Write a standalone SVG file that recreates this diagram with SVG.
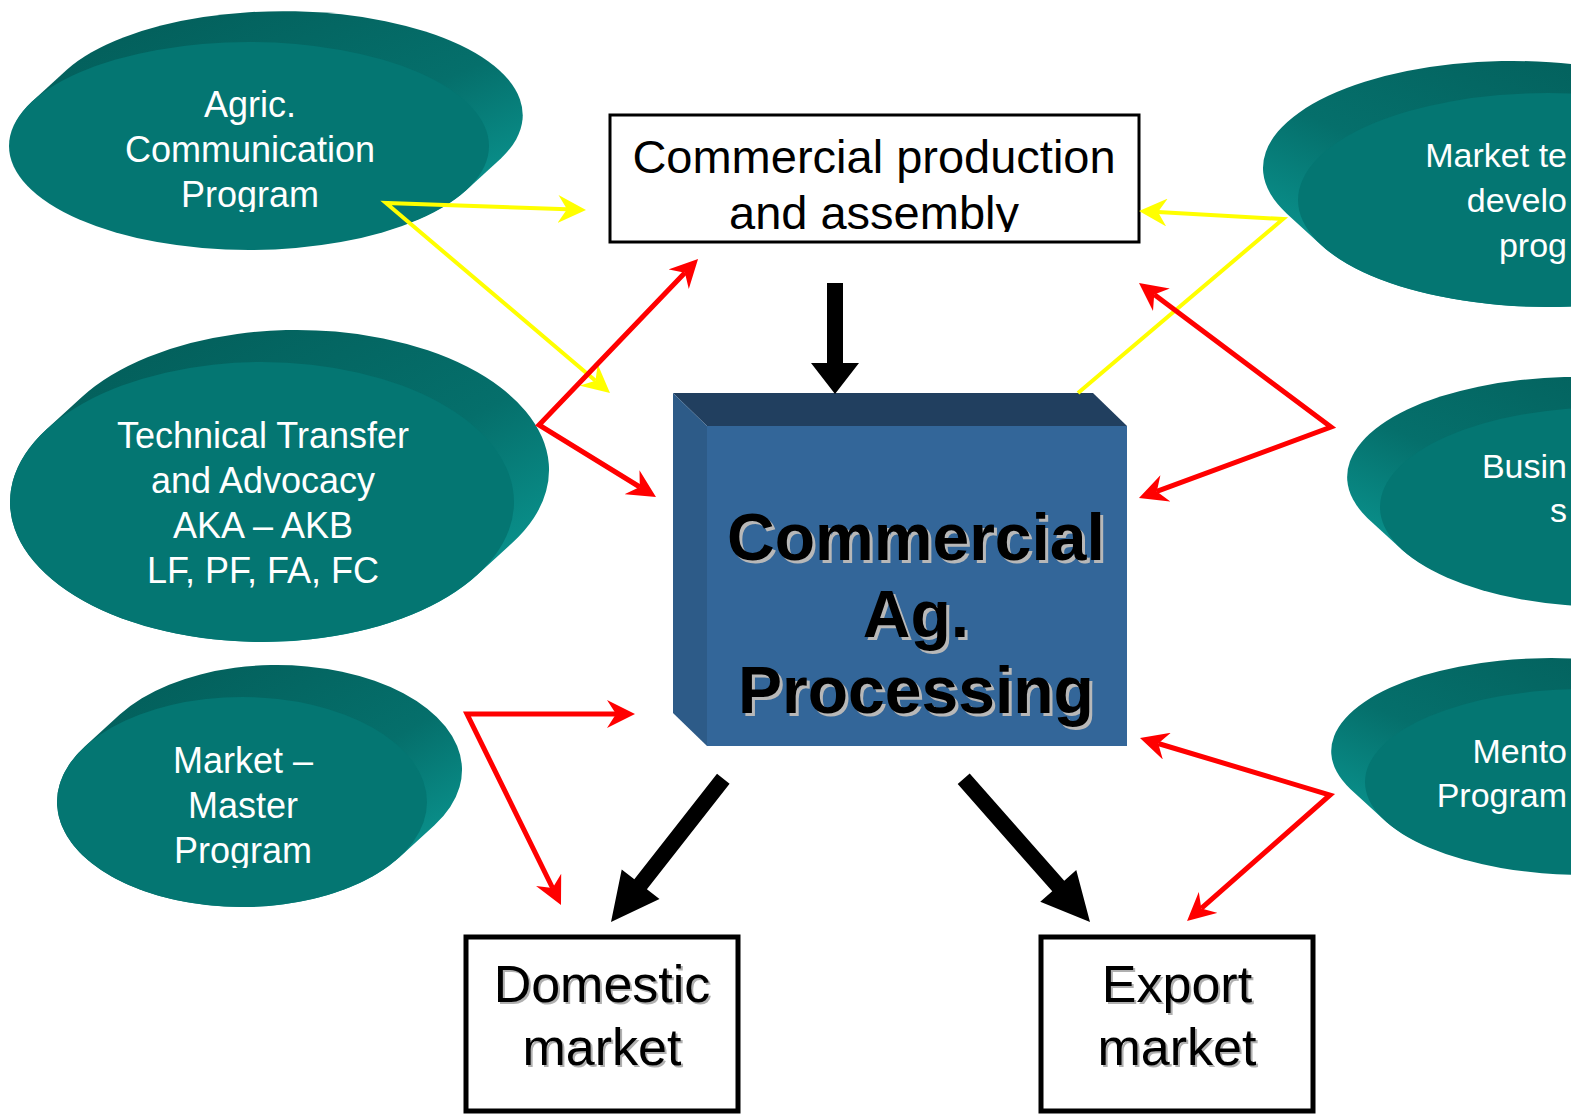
<svg xmlns="http://www.w3.org/2000/svg" width="1571" height="1117" viewBox="0 0 1571 1117">
<defs>
  <style>
    .front{fill:#047672}
    .sideL{fill:url(#gSideL)}
    .sideR{fill:url(#gSideR)}
    .el{font-family:"Liberation Sans",Arial,sans-serif;font-size:36px;fill:#ffffff;text-anchor:middle}
    .elS{font-family:"Liberation Sans",Arial,sans-serif;font-size:34px;fill:#ffffff;text-anchor:end}
    .box{fill:#ffffff;stroke:#000000}
    .prod{font-family:"Liberation Sans",Arial,sans-serif;font-size:47px;fill:#000000;text-anchor:middle}
    .mkt{font-family:"Liberation Sans",Arial,sans-serif;font-size:52px;text-anchor:middle}
    .big{font-family:"Liberation Sans",Arial,sans-serif;font-weight:bold;font-size:66px;text-anchor:middle}
    .red{fill:none;stroke:#ff0000;stroke-width:5;stroke-linejoin:miter}
    .yel{fill:none;stroke:#ffff00;stroke-width:4;stroke-linejoin:miter}
    .blk{fill:#000000}
  </style>
  <linearGradient id="gSideL" x1="0.25" y1="0" x2="0.95" y2="0.75">
    <stop offset="0" stop-color="#035f5b"/>
    <stop offset="0.6" stop-color="#056f6b"/>
    <stop offset="1" stop-color="#0a938e"/>
  </linearGradient>
  <linearGradient id="gSideR" x1="0.75" y1="0" x2="0.05" y2="0.75">
    <stop offset="0" stop-color="#035f5b"/>
    <stop offset="0.6" stop-color="#056f6b"/>
    <stop offset="1" stop-color="#0a938e"/>
  </linearGradient>
  <marker id="ahRed" viewBox="0 0 28 28" refX="9" refY="14" markerWidth="28" markerHeight="28" markerUnits="userSpaceOnUse" orient="auto-start-reverse">
    <path d="M0,0 L28,14 L0,28 L9,14 Z" fill="#ff0000"/>
  </marker>
  <marker id="ahYel" viewBox="0 0 28 28" refX="9" refY="14" markerWidth="28" markerHeight="28" markerUnits="userSpaceOnUse" orient="auto-start-reverse">
    <path d="M0,0 L28,14 L0,28 L9,14 Z" fill="#ffff00"/>
  </marker>
  <clipPath id="clipAgric"><rect x="0" y="0" width="560" height="212"/></clipPath>
  <clipPath id="clipMM"><rect x="0" y="640" width="560" height="228"/></clipPath>
  <clipPath id="clipProd"><rect x="612" y="117" width="525" height="115"/></clipPath>
</defs>

<g id="node-agric">
  <path class="sideL" d="M67.1,69.5 A240,104 0 0 1 500.9,158.5 L465.9,190.5 A240,104 0 0 1 32.1,101.5 Z"/>
  <ellipse class="front" cx="249" cy="146" rx="240" ry="104"/>
  <g clip-path="url(#clipAgric)">
    <text class="el" x="250" y="117">Agric.</text>
    <text class="el" x="250" y="162">Communication</text>
    <text class="el" x="250" y="207">Program</text>
  </g>
</g>

<g id="node-technical">
  <path class="sideL" d="M81.6,397.3 A252,140 0 0 1 512.4,542.7 L477.4,574.7 A252,140 0 0 1 46.6,429.3 Z"/>
  <ellipse class="front" cx="262" cy="502" rx="252" ry="140"/>
  <text class="el" x="263" y="448">Technical Transfer</text>
  <text class="el" x="263" y="493">and Advocacy</text>
  <text class="el" x="263" y="538">AKA – AKB</text>
  <text class="el" x="263" y="583">LF, PF, FA, FC</text>
</g>

<g id="node-market-master">
  <path class="sideL" d="M119.8,714.6 A185,105 0 0 1 434.2,825.4 L399.2,857.4 A185,105 0 0 1 84.8,746.6 Z"/>
  <ellipse class="front" cx="242" cy="802" rx="185" ry="105"/>
  <g clip-path="url(#clipMM)">
    <text class="el" x="243" y="773">Market –</text>
    <text class="el" x="243" y="818">Master</text>
    <text class="el" x="243" y="863">Program</text>
  </g>
</g>

<g id="node-market-tech">
  <path class="sideR" d="M1739.4,122.6 A250,107 0 0 0 1286.6,213.4 L1321.6,245.4 A250,107 0 0 0 1774.4,154.6 Z"/>
  <ellipse class="front" cx="1548" cy="200" rx="250" ry="107"/>
  <text class="elS" x="1567" y="167">Market te</text>
  <text class="elS" x="1567" y="212">develo</text>
  <text class="elS" x="1567" y="257">prog</text>
</g>

<g id="node-business">
  <path class="sideR" d="M1782.7,432.1 A230,100 0 0 0 1367.3,517.9 L1402.3,549.9 A230,100 0 0 0 1817.7,464.1 Z"/>
  <ellipse class="front" cx="1610" cy="507" rx="230" ry="100"/>
  <text class="elS" x="1567" y="478">Busin</text>
  <text class="elS" x="1567" y="522">s</text>
</g>

<g id="node-mentor">
  <path class="sideR" d="M1749.7,711 A220,93 0 0 0 1350.3,789 L1385.3,821 A220,93 0 0 0 1784.7,743 Z"/>
  <ellipse class="front" cx="1585" cy="782" rx="220" ry="93"/>
  <text class="elS" x="1567" y="763">Mento</text>
  <text class="elS" x="1567" y="807">Program</text>
</g>

<g id="node-production">
  <rect class="box" x="610" y="115" width="529" height="127" stroke-width="3"/>
  <g clip-path="url(#clipProd)">
    <text class="prod" x="874" y="173">Commercial production</text>
    <text class="prod" x="874" y="229">and assembly</text>
  </g>
</g>

<g id="node-processing">
  <polygon points="673,393 1093,393 1127,426 707,426" fill="#213f5f"/>
  <polygon points="673,393 707,426 707,746 673,713" fill="#2d5b88"/>
  <rect x="707" y="426" width="420" height="320" fill="#336699"/>
  <g fill="#b8b8b8">
    <text class="big" x="919" y="563">Commercial</text>
    <text class="big" x="919" y="640">Ag.</text>
    <text class="big" x="919" y="716">Processing</text>
  </g>
  <g fill="#000000">
    <text class="big" x="916" y="560">Commercial</text>
    <text class="big" x="916" y="637">Ag.</text>
    <text class="big" x="916" y="713">Processing</text>
  </g>
</g>

<g id="node-domestic">
  <rect class="box" x="466" y="937" width="272" height="174" stroke-width="5"/>
  <text class="mkt" x="604" y="1004" fill="#b0b0b0">Domestic</text>
  <text class="mkt" x="604" y="1067" fill="#b0b0b0">market</text>
  <text class="mkt" x="602" y="1002" fill="#000000">Domestic</text>
  <text class="mkt" x="602" y="1065" fill="#000000">market</text>
</g>

<g id="node-export">
  <rect class="box" x="1041" y="937" width="272" height="174" stroke-width="5"/>
  <text class="mkt" x="1179" y="1004" fill="#b0b0b0">Export</text>
  <text class="mkt" x="1179" y="1067" fill="#b0b0b0">market</text>
  <text class="mkt" x="1177" y="1002" fill="#000000">Export</text>
  <text class="mkt" x="1177" y="1065" fill="#000000">market</text>
</g>

<g id="connectors">
  <path class="yel" d="M567,209.3 L386,203 L595.5,380.7" marker-start="url(#ahYel)" marker-end="url(#ahYel)"/>
  <path class="yel" d="M1158,212 L1283,219 L1078,393" marker-start="url(#ahYel)"/>
  <path class="red" d="M684.9,272.7 L539,425 L639.8,487" marker-start="url(#ahRed)" marker-end="url(#ahRed)"/>
  <path class="red" d="M1154.2,294.4 L1331,427 L1156.8,491.4" marker-start="url(#ahRed)" marker-end="url(#ahRed)"/>
  <path class="red" d="M1158.2,743.5 L1330,795 L1201.3,908.4" marker-start="url(#ahRed)" marker-end="url(#ahRed)"/>
  <path class="red" d="M616,714 L467,714 L552.6,888" marker-start="url(#ahRed)" marker-end="url(#ahRed)"/>
  <polygon class="blk" points="827,283 843,283 843,363 859,363 835,394 811,363 827,363"/>
  <polygon class="blk" points="0,0 -48,-24 -48,-8 -182,-8 -182,8 -48,8 -48,24" transform="translate(611,922) rotate(128.1)"/>
  <polygon class="blk" points="0,0 -48,-24 -48,-8 -191,-8 -191,8 -48,8 -48,24" transform="translate(1090,922) rotate(48.6)"/>
</g>
</svg>
